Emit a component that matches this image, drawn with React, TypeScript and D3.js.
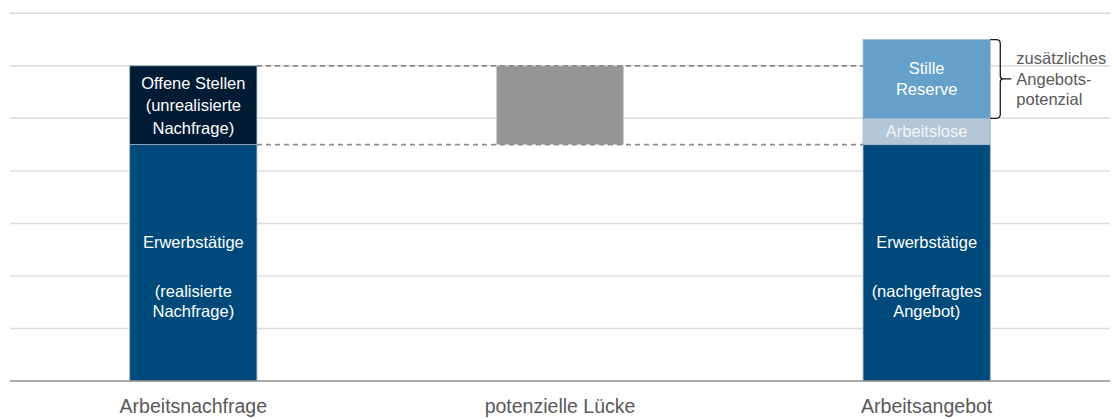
import React from "react";
import * as d3 from "d3";

const categories = ["Arbeitsnachfrage", "potenzielle Lücke", "Arbeitsangebot"];
const gridTicks = [0, 1, 2, 3, 4, 5, 6, 7];
const demandSegments = [
  { cat: "Arbeitsnachfrage", y0: 0, y1: 4.5, key: "emp", lines: ["Erwerbstätige", "", "(realisierte", "Nachfrage)"] },
  { cat: "Arbeitsnachfrage", y0: 4.5, y1: 6, key: "open", lines: ["Offene Stellen", "(unrealisierte", "Nachfrage)"] },
];
const gapSegments = [{ cat: "potenzielle Lücke", y0: 4.5, y1: 6, key: "gap", lines: [] as string[] }];
const supplySegments = [
  { cat: "Arbeitsangebot", y0: 0, y1: 4.5, key: "emp", lines: ["Erwerbstätige", "", "(nachgefragtes", "Angebot)"] },
  { cat: "Arbeitsangebot", y0: 4.5, y1: 5, key: "unemp", lines: ["Arbeitslose"] },
  { cat: "Arbeitsangebot", y0: 5, y1: 6.5, key: "reserve", lines: ["Stille", "Reserve"] },
];
const dashedLevels = [4.5, 6];
const bracketRange = [5, 6.5];
const bracketLabel = ["zusätzliches", "Angebots-", "potenzial"];

const colors: Record<string, string> = {
  emp: "#00497B",
  open: "#001B33",
  gap: "#969696",
  unemp: "#B3C7D7",
  reserve: "#64A0CA",
};

export default function App() {
  const W = 1114, H = 419;
  const x0 = 10, x1 = 1110;
  const y = d3.scaleLinear().domain([0, 7]).range([381, 13.3]);
  const x = d3.scaleBand().domain(categories).range([x0, x1]).padding(0);
  const bw = x.bandwidth() * 0.347;
  const cx = (c: string) => (x(c) as number) + x.bandwidth() / 2;
  const font = "'Liberation Sans', Arial, sans-serif";
  const segs = [...demandSegments, ...gapSegments, ...supplySegments];
  const leftEdge = cx(categories[0]) + bw / 2;
  const rightEdge = cx(categories[2]) - bw / 2;

  const lineOffsets = (key: string, n: number) => {
    if (key === "emp") return [-21, 0, 28, 48.5];
    const lh = key === "open" ? 22.5 : 21;
    return d3.range(n).map((j) => (j - (n - 1) / 2) * lh);
  };

  return (
    <svg width={W} height={H} style={{ position: "absolute", left: 0, top: 0 }} fontFamily={font}>
      {gridTicks.slice(1).map((t) => (
        <line key={t} x1={x0} x2={x1} y1={y(t)} y2={y(t)} stroke="#DCDCDC" strokeWidth={1.5} />
      ))}
      {segs.map((s, i) => {
        const top = y(s.y1), bot = y(s.y0);
        const mid = (top + bot) / 2;
        const offs = lineOffsets(s.key, s.lines.length);
        return (
          <g key={i}>
            <rect x={cx(s.cat) - bw / 2} y={top} width={bw} height={bot - top} fill={colors[s.key]}
              stroke={s.key === "gap" ? "#D0D0D0" : "#9FB8CC"} strokeWidth={0.8} />
            {s.lines.map((l, j) => (
              <text key={j} x={cx(s.cat)} y={mid + offs[j]} dy="0.35em" textAnchor="middle"
                fontSize={16.5} fill={s.key === "unemp" ? "#F2F5F8" : "#FFFFFF"}>{l}</text>
            ))}
          </g>
        );
      })}
      {dashedLevels.map((v) => (
        <line key={v} x1={leftEdge} x2={rightEdge} y1={y(v)} y2={y(v)} stroke="#8A8A8A" strokeWidth={1.8} strokeDasharray="5,4" />
      ))}
      <line x1={x0} x2={x1} y1={y(0)} y2={y(0)} stroke="#8C8C8C" strokeWidth={1.5} />
      {(() => {
        const bx = cx(categories[2]) + bw / 2;
        const t = y(bracketRange[1]), b = y(bracketRange[0]);
        const m = (t + b) / 2;
        const p = `M${bx},${t} H${bx + 6} Q${bx + 10},${t} ${bx + 10},${t + 4} V${m - 3} Q${bx + 10},${m} ${bx + 13},${m} H${bx + 21} M${bx + 13},${m} Q${bx + 10},${m} ${bx + 10},${m + 3} V${b - 4} Q${bx + 10},${b} ${bx + 6},${b} H${bx}`;
        return (
          <g>
            <path d={p} fill="none" stroke="#1A1A1A" strokeWidth={1.3} />
            {bracketLabel.map((l, j) => (
              <text key={j} x={bx + 26} y={m + (j - 1) * 20.5} dy="0.35em" fontSize={16.5} fill="#595959">{l}</text>
            ))}
          </g>
        );
      })()}
      {categories.map((c) => (
        <text key={c} x={cx(c)} y={406} dy="0.35em" textAnchor="middle" fontSize={19.5} fill="#595959">{c}</text>
      ))}
    </svg>
  );
}
